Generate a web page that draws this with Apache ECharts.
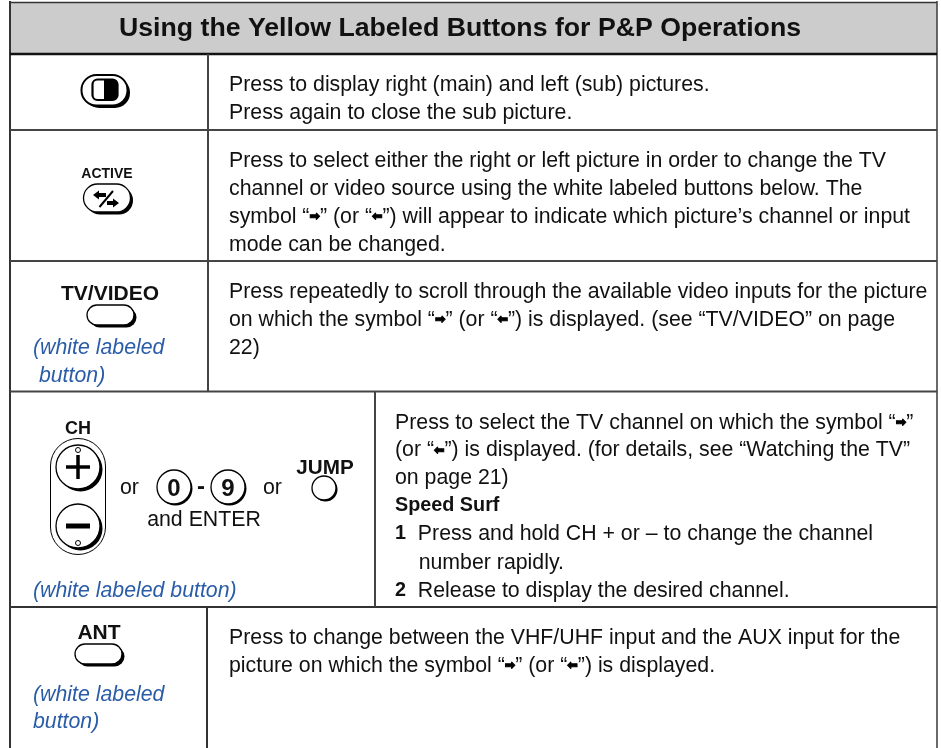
<!DOCTYPE html>
<html><head><meta charset="utf-8">
<style>html,body{margin:0;padding:0;background:#fff}#c{width:941px;height:748px}</style>
<script src="https://cdn.jsdelivr.net/npm/echarts@6/dist/echarts.min.js"></script>
</head><body><div id="c"></div>
<script>
const titleText = 'Using the Yellow Labeled Buttons for P&P Operations';
const row1Lines = ['Press to display right (main) and left (sub) pictures.','Press again to close the sub picture.'];
const row2Lines = ['Press to select either the right or left picture in order to change the TV','channel or video source using the white labeled buttons below. The','symbol “{r|➡}” (or “{l|⬅}”) will appear to indicate which picture’s channel or input','mode can be changed.'];
const row3Lines = ['Press repeatedly to scroll through the available video inputs for the picture','on which the symbol “{r|➡}” (or “{l|⬅}”) is displayed. (see “TV/VIDEO” on page','22)'];
const row4Lines = ['Press to select the TV channel on which the symbol “{r|➡}”','(or “{l|⬅}”) is displayed. (for details, see “Watching the TV”','on page 21)','{b|Speed Surf}','{b|1}  Press and hold CH + or – to change the channel','    number rapidly.','{b|2}  Release to display the desired channel.'];
const row5Lines = ['Press to change between the VHF/UHF input and the AUX input for the','picture on which the symbol “{r|➡}” (or “{l|⬅}”) is displayed.'];
const buttonLabels = {active:'ACTIVE', tv:'TV/VIDEO', ch:'CH', jump:'JUMP', ant:'ANT', zero:'0', nine:'9', dash:'-', or:'or', enter:'and ENTER'};
const whiteNote = ['(white labeled',' button)','(white labeled button)','(white labeled','button)'];

const FONT = '"Liberation Sans", Arial, sans-serif';
const BODY = 21.3;
const els = [];
const arrow = {fontFamily:'"DejaVu Sans"',fontSize:12.5,fontWeight:'bold',fill:'#000',stroke:'#000',lineWidth:1};
const rich = {
  r:arrow,
  l:arrow,
  b:{fontFamily:FONT,fontSize:BODY-1.5,fontWeight:'bold',fill:'#111'}
};
function txt(x,y,s,o){o=o||{};els.push({type:'text',x,y:y+3,silent:true,z:o.z||5,style:{text:s,fill:o.fill||'#111',align:o.align||'left',verticalAlign:'middle',font:(o.italic?'italic ':'')+(o.bold?'bold ':'')+(o.size||BODY)+'px '+FONT,rich}});}
function line(x1,y1,x2,y2,w,c,z){els.push({type:'line',silent:true,z:z||3,shape:{x1,y1,x2,y2},style:{stroke:c||'#333',lineWidth:w||2}});}
function pill(x,y,w,h,r,off,lw){
  els.push({type:'rect',silent:true,z:4,shape:{x:x+off,y:y+off,width:w,height:h,r},style:{fill:'#000'}});
  els.push({type:'rect',silent:true,z:4,shape:{x,y,width:w,height:h,r},style:{fill:'#fff',stroke:'#000',lineWidth:lw||1.3}});
}
function disc(cx,cy,r,off){
  els.push({type:'circle',silent:true,z:4,shape:{cx:cx+off,cy:cy+off,r},style:{fill:'#000'}});
  els.push({type:'circle',silent:true,z:4,shape:{cx,cy,r},style:{fill:'#fff',stroke:'#000',lineWidth:1.3}});
}
function block(x,ys,lines){lines.forEach((s,i)=>txt(x,ys[i],s));}

// frame
els.push({type:'rect',silent:true,z:1,shape:{x:10,y:2.5,width:927,height:52},style:{fill:'#cccccc'}});
line(10,2.5,937,2.5,1.6,'#333');
line(10,1,10,748,2,'#333');
line(937,1,937,748,1.6,'#444');
line(10,54,937,54,2.4,'#111');
line(10,130,937,130,2,'#444');
line(10,261,937,261,2,'#444');
line(10,391.5,937,391.5,2,'#444');
line(10,607,937,607,2,'#333');
line(208,54,208,391,2,'#444');
line(375,391,375,607,2,'#444');
line(207,607,207,748,2,'#333');

// title
txt(460,25.5,titleText,{bold:true,size:26.7,align:'center'});

// right text
block(229,[82,110],row1Lines);
block(229,[158,186,214,242],row2Lines);
block(229,[289,317,345],row3Lines);
block(395,[420,447.5,475,503,531,560,588],row4Lines);
block(229,[635,663],row5Lines);

// button 1
pill(81.5,75,46,30.5,15,2.5,2);
els.push({type:'rect',silent:true,z:5,shape:{x:92.5,y:79.5,width:25,height:20.5,r:5},style:{fill:'#fff',stroke:'#000',lineWidth:2.2}});
els.push({type:'rect',silent:true,z:6,shape:{x:104,y:79.5,width:13.5,height:20.5,r:[0,5,5,0]},style:{fill:'#000'}});

// active
txt(107,171.5,buttonLabels.active,{bold:true,size:14,align:'center'});
pill(83.5,184,47,28,14,2.5);
line(99.5,207,113,191,2,'#000',6);
els.push({type:'polygon',silent:true,z:6,shape:{points:[[93,195],[99,190.5],[99,193],[106,193],[106,197],[99,197],[99,199.5]]},style:{fill:'#000'}});
els.push({type:'polygon',silent:true,z:6,shape:{points:[[119,203],[113,198.5],[113,201],[107,201],[107,205],[113,205],[113,207.5]]},style:{fill:'#000'}});

// tv/video
txt(110,291,buttonLabels.tv,{bold:true,size:21,align:'center'});
pill(87,305,47,20,10,2.5);
txt(33,345,whiteNote[0],{italic:true,fill:'#2a5ca8'});
txt(33,373,whiteNote[1],{italic:true,fill:'#2a5ca8'});

// CH group
txt(78,426,buttonLabels.ch,{bold:true,size:18,align:'center'});
els.push({type:'rect',silent:true,z:3,shape:{x:50.5,y:438.5,width:55,height:116,r:27.5},style:{fill:'#fff',stroke:'#000',lineWidth:1}});
disc(78,467,22,2.5);
disc(78,526,22,2.5);
els.push({type:'circle',silent:true,z:6,shape:{cx:78,cy:450,r:2.5},style:{fill:'#fff',stroke:'#000',lineWidth:1}});
els.push({type:'circle',silent:true,z:6,shape:{cx:78,cy:543,r:2.5},style:{fill:'#fff',stroke:'#000',lineWidth:1}});
line(66,467,90,467,3.5,'#000',6);
line(78,455,78,479,3.5,'#000',6);
line(66,526,90,526,5,'#000',6);
txt(120,485,buttonLabels.or);
disc(174,487,17,1.5);
txt(174,486,buttonLabels.zero,{bold:true,size:24,align:'center'});
txt(201,484,buttonLabels.dash,{bold:true,size:24,align:'center'});
disc(228,487,17,1.5);
txt(228,486,buttonLabels.nine,{bold:true,size:24,align:'center'});
txt(263,485,buttonLabels.or);
txt(204,517.5,buttonLabels.enter,{align:'center'});
txt(325,465,buttonLabels.jump,{bold:true,size:20.7,align:'center'});
disc(324,488,12,1.5);
txt(33,588,whiteNote[2],{italic:true,fill:'#2a5ca8'});

// ANT
txt(99,630,buttonLabels.ant,{bold:true,size:21,align:'center'});
pill(75,644,47,20,10,2.5);
txt(33,692.5,whiteNote[3],{italic:true,fill:'#2a5ca8'});
txt(33,719.5,whiteNote[4],{italic:true,fill:'#2a5ca8'});

const chart = echarts.init(document.getElementById('c'),null,{renderer:'canvas'});
chart.setOption({animation:false,backgroundColor:'#fff',graphic:{elements:els}});
</script></body></html>
